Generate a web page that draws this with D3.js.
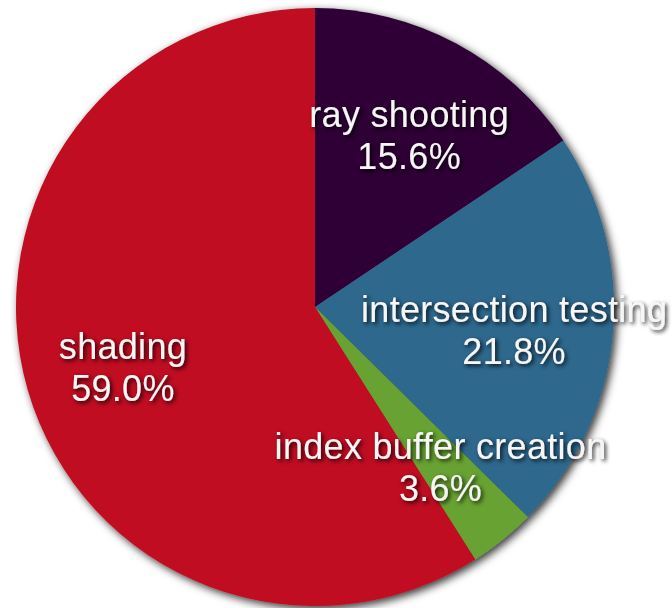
<!DOCTYPE html>
<html>
<head>
<meta charset="utf-8">
<script src="https://cdn.jsdelivr.net/npm/d3@7"></script>
<style>
  html, body { margin: 0; padding: 0; background: #fff; }
  svg { display: block; }
</style>
</head>
<body>
<div id="pie-chart"></div>
<script>
(function () {
  const categories = ['ray shooting', 'intersection testing', 'index buffer creation', 'shading'];
  const shares = [15.6, 21.8, 3.6, 59.0];
  const colors = ['#2e0235', '#2e678d', '#67a232', '#c01121'];

  const width = 672;
  const height = 608;
  const radius = 299;
  const cx = 315;
  const cy = 307;

  const data = categories.map((c, i) => ({ label: c, value: shares[i], color: colors[i] }));

  const svg = d3
    .select('#pie-chart')
    .append('svg')
    .attr('width', width)
    .attr('height', height);

  let defs = svg.append('defs');

  defs
    .append('filter')
    .attr('id', 'pie-shadow')
    .attr('x', '-10%')
    .attr('y', '-10%')
    .attr('width', '120%')
    .attr('height', '120%')
    .append('feDropShadow')
    .attr('dx', 3)
    .attr('dy', 3)
    .attr('stdDeviation', 4.5)
    .attr('flood-color', '#000')
    .attr('flood-opacity', 0.8);

  defs
    .append('filter')
    .attr('id', 'text-shadow')
    .attr('x', '-20%')
    .attr('y', '-30%')
    .attr('width', '140%')
    .attr('height', '160%')
    .append('feDropShadow')
    .attr('dx', 2)
    .attr('dy', 2)
    .attr('stdDeviation', 2)
    .attr('flood-color', '#000')
    .attr('flood-opacity', 0.85);

  const pie = d3.pie().sort(null).value((d) => d.value);
  const arcs = pie(data);

  const arc = d3.arc().innerRadius(0).outerRadius(radius);
  const labelArc = d3.arc().innerRadius(200).outerRadius(200);

  const g = svg.append('g').attr('transform', `translate(${cx}, ${cy})`);

  g.append('g')
    .attr('filter', 'url(#pie-shadow)')
    .selectAll('path')
    .data(arcs)
    .enter()
    .append('path')
    .attr('d', arc)
    .attr('fill', (d) => d.data.color);

  let labels = g
    .append('g')
    .attr('filter', 'url(#text-shadow)')
    .selectAll('text')
    .data(arcs)
    .enter()
    .append('text')
    .attr('transform', (d) => {
      let [x, y] = labelArc.centroid(d);
      return `translate(${x}, ${y + 5})`;
    })
    .attr('text-anchor', 'middle')
    .attr('font-family', 'Liberation Sans, Arial, Helvetica, sans-serif')
    .attr('font-size', 36)
    .attr('letter-spacing', 0.3)
    .attr('fill', '#f6f6f6');

  labels
    .append('tspan')
    .attr('x', 0)
    .attr('y', -9)
    .text((d) => d.data.label);

  labels
    .append('tspan')
    .attr('x', 0)
    .attr('y', 33)
    .text((d) => d.data.value.toFixed(1) + '%');
})();
</script>
</body>
</html>
